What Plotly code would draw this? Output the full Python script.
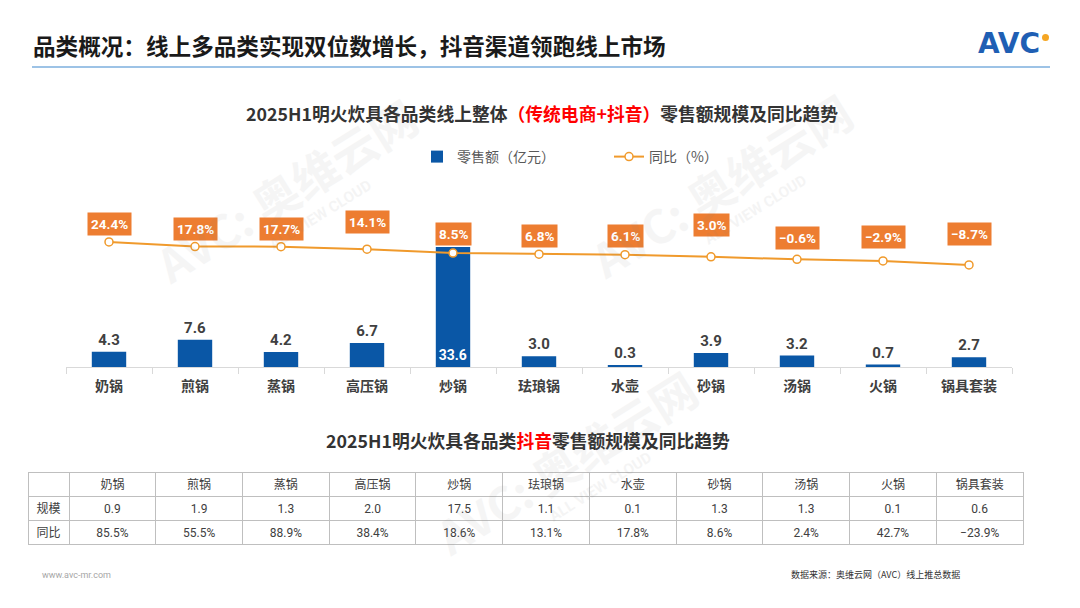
import plotly.graph_objects as go

# ---------------- data ----------------
categories = ["奶锅", "煎锅", "蒸锅", "高压锅", "炒锅", "珐琅锅", "水壶", "砂锅", "汤锅", "火锅", "锅具套装"]
retail_sales = [4.3, 7.6, 4.2, 6.7, 33.6, 3.0, 0.3, 3.9, 3.2, 0.7, 2.7]          # 零售额（亿元）
yoy_growth = [24.4, 17.8, 17.7, 14.1, 8.5, 6.8, 6.1, 3.0, -0.6, -2.9, -8.7]       # 同比（%）
douyin_scale = [0.9, 1.9, 1.3, 2.0, 17.5, 1.1, 0.1, 1.3, 1.3, 0.1, 0.6]
douyin_yoy = [85.5, 55.5, 88.9, 38.4, 18.6, 13.1, 17.8, 8.6, 2.4, 42.7, -23.9]

# label vertical offsets (px) for the growth labels (style only)
label_shift = [18, 18, 18, 27, 19, 18, 19, 32, 21, 24, 31]

W, H = 1080, 608
FONT = "Roboto, 'Noto Sans CJK SC', sans-serif"
CJK = "'Noto Sans CJK SC', sans-serif"
BLUE = "#0A57A6"
ORANGE = "#ED7D31"
LINE = "#F09A2C"
GREY_TXT = "#404040"


def px(xp):
    return xp / W


def py(yp):
    return 1 - yp / H


fig = go.Figure()

# bars
text_pos = ["inside" if v == max(retail_sales) else "outside" for v in retail_sales]
fig.add_trace(go.Bar(
    x=categories, y=retail_sales, name="零售额（亿元）",
    marker=dict(color=BLUE, line=dict(width=0)), width=0.4,
    text=[f"{v:.1f}" for v in retail_sales], textposition=text_pos,
    insidetextanchor="start", textangle=0,
    outsidetextfont=dict(family=FONT, size=15, color=GREY_TXT, weight="bold"),
    insidetextfont=dict(family=FONT, size=15, color="white", weight="bold"),
    cliponaxis=False, hoverinfo="skip",
))

# line
fig.add_trace(go.Scatter(
    x=categories, y=yoy_growth, name="同比（%）", yaxis="y2",
    mode="lines+markers", line=dict(color=LINE, width=2),
    marker=dict(size=8, color="white", line=dict(color=LINE, width=1.5)),
    cliponaxis=False, hoverinfo="skip",
))

# growth labels
for c, v, s in zip(categories, yoy_growth, label_shift):
    txt = f"{v:.1f}%".replace("-", "−")
    fig.add_annotation(x=c, y=v, xref="x", yref="y2", text=f"<b>{txt}</b>",
                       showarrow=False, yshift=s, yanchor="middle",
                       bgcolor=ORANGE, borderpad=3,
                       font=dict(family=FONT, size=13.5, color="white"))

# table (抖音)
def fmt_pct(v):
    return f"{v:.1f}%".replace("-", "−")

cols = [["规模", "同比"]] + [[f"{a:.1f}", fmt_pct(b)] for a, b in zip(douyin_scale, douyin_yoy)]
fig.add_trace(go.Table(
    domain=dict(x=[px(28), px(1023)], y=[py(548), py(472)]),
    columnwidth=[41] + [86.7] * len(categories),
    header=dict(values=[""] + categories, height=24, align="center",
                fill_color="white", line=dict(color="#BFBFBF", width=1),
                font=dict(family=CJK, size=12, color=GREY_TXT)),
    cells=dict(values=cols, height=24, align="center",
               fill_color="white", line=dict(color="#BFBFBF", width=1),
               font=dict(family=FONT, size=12, color=GREY_TXT)),
))

fig.update_layout(
    width=W, height=H, margin=dict(l=0, r=0, t=0, b=0),
    paper_bgcolor="white", plot_bgcolor="white",
    showlegend=True,
    legend=dict(orientation="h", x=px(417), y=py(141), xanchor="left", yanchor="top",
                font=dict(family=CJK, size=14, color="#595959"),
                entrywidth=147, entrywidthmode="pixels", bgcolor="rgba(0,0,0,0)"),
    xaxis=dict(domain=[px(66), px(1012)], range=[-0.5, len(categories) - 0.5],
               showgrid=False, showline=True,
               linecolor="#D9D9D9", linewidth=1, ticks="outside", tickson="boundaries",
               ticklen=6, tickcolor="#D9D9D9", ticklabelstandoff=6,
               tickfont=dict(family=CJK, size=14, color=GREY_TXT, weight="bold"), anchor="y"),
    yaxis=dict(domain=[py(367), py(187)], range=[0, 180 / 3.57], visible=False,
               showgrid=False, fixedrange=True),
    yaxis2=dict(overlaying="y", range=[-155.5, 103.5], visible=False, showgrid=False),
    font=dict(family=FONT),
)

# header title
fig.add_annotation(xref="paper", yref="paper", x=px(31), y=py(45), xanchor="left", yanchor="middle",
                   text="<b>品类概况：线上多品类实现双位数增长，抖音渠道领跑线上市场</b>", showarrow=False,
                   font=dict(family=CJK, size=22.6, color="#1a1a1a"))
fig.add_shape(type="line", xref="paper", yref="paper", x0=px(32), x1=px(1050), y0=py(67), y1=py(67),
              line=dict(color="#9DC3E6", width=2))
# logo
fig.add_annotation(xref="paper", yref="paper", x=px(1042), y=py(43), xanchor="right", yanchor="middle",
                   text="<b>AVC</b>", showarrow=False,
                   font=dict(family="DejaVu Sans, sans-serif", size=28, color="#1F5FB4"))
fig.add_shape(type="circle", xref="paper", yref="paper", x0=px(1042), x1=px(1049), y0=py(41), y1=py(34),
              fillcolor="#F5A623", line=dict(width=0))

# chart titles
fig.add_annotation(xref="paper", yref="paper", x=px(542), y=py(113), xanchor="center", yanchor="middle",
                   text="<b>2025H1明火炊具各品类线上整体<span style='color:#FF0000'>（传统电商+抖音）</span>零售额规模及同比趋势</b>",
                   showarrow=False, font=dict(family=CJK, size=17.8, color="#333333"))
fig.add_annotation(xref="paper", yref="paper", x=px(528), y=py(440), xanchor="center", yanchor="middle",
                   text="<b>2025H1明火炊具各品类<span style='color:#FF0000'>抖音</span>零售额规模及同比趋势</b>",
                   showarrow=False, font=dict(family=CJK, size=17.8, color="#333333"))

# footer
fig.add_annotation(xref="paper", yref="paper", x=px(40), y=py(575), xanchor="left", yanchor="middle",
                   text="www.avc-mr.com", showarrow=False,
                   font=dict(family=FONT, size=9, color="#A6A6A6"))
fig.add_annotation(xref="paper", yref="paper", x=px(962), y=py(574), xanchor="right", yanchor="middle",
                   text="数据来源：奥维云网（AVC）线上推总数据", showarrow=False,
                   font=dict(family=CJK, size=9, color="#333333"))

# watermarks
for cx, cy in [(285, 190), (720, 185), (565, 462)]:
    fig.add_annotation(xref="paper", yref="paper", x=px(cx), y=py(cy), showarrow=False,
                       xanchor="center", yanchor="middle",
                       text="<b>AVC: 奥维云网</b>", textangle=-32, opacity=0.07,
                       font=dict(family=CJK, size=46, color="#808080"))
    fig.add_annotation(xref="paper", yref="paper", x=px(cx + 35), y=py(cy + 25), showarrow=False,
                       xanchor="center", yanchor="middle",
                       text="<b>ALL VIEW CLOUD</b>", textangle=-32, opacity=0.08,
                       font=dict(family=FONT, size=15, color="#808080"))

fig.write_html("out.html", include_plotlyjs=True, config={"displayModeBar": False})
